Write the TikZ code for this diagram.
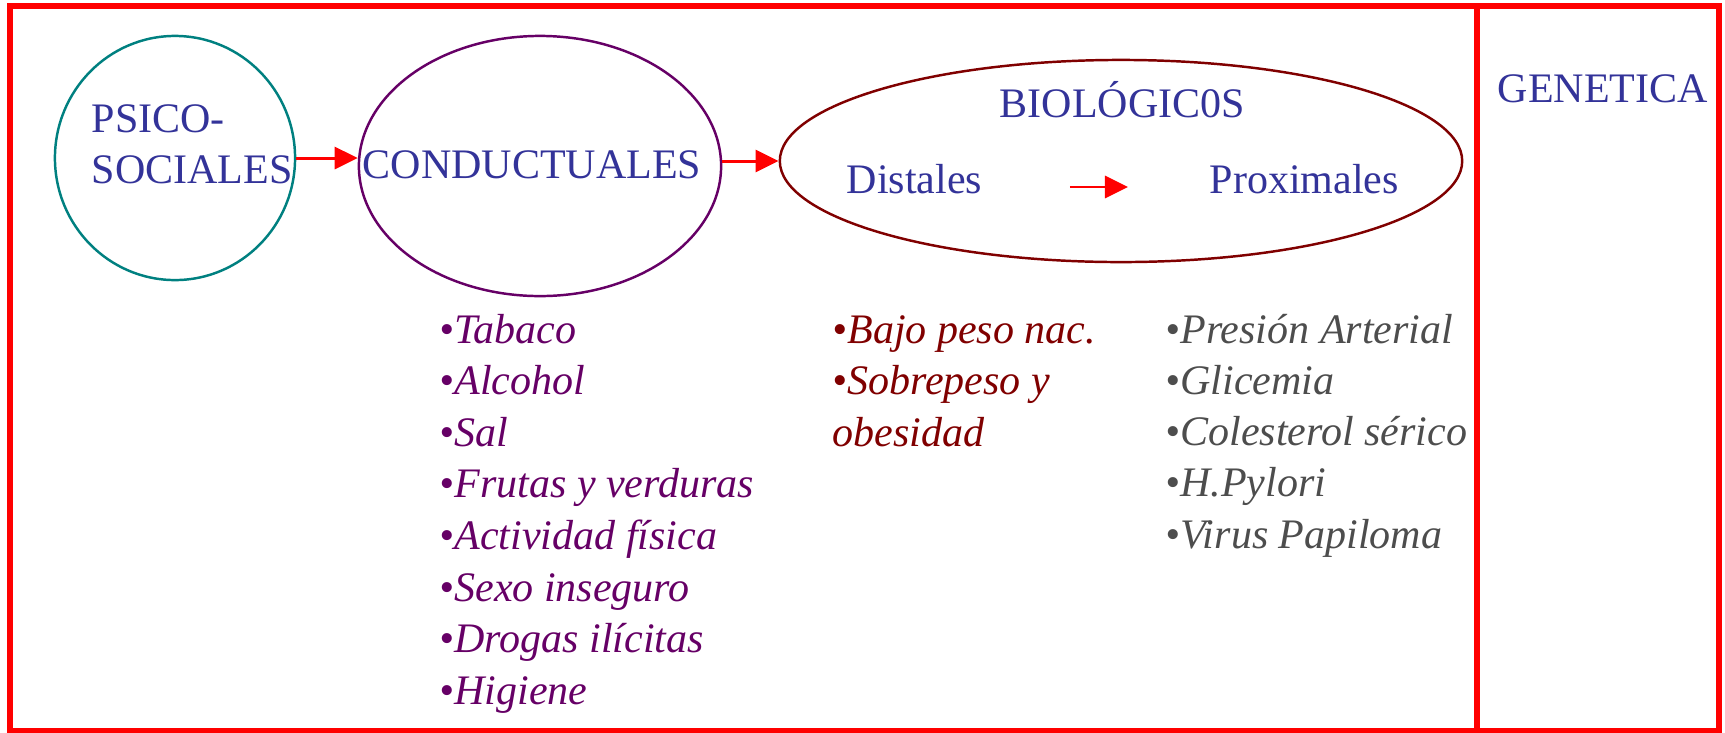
\documentclass[tikz,border=0pt]{standalone}
\usepackage{fontspec}
\setmainfont{Liberation Serif}
\usepackage{tikz}
\usetikzlibrary{shapes.geometric, arrows.meta, positioning}

\definecolor{frameRed}{HTML}{FF0000}
\definecolor{txtBlue}{HTML}{333399}
\definecolor{psiTeal}{HTML}{008080}
\definecolor{condPurple}{HTML}{660066}
\definecolor{bioRed}{HTML}{800000}
\definecolor{listGray}{HTML}{4D4D4D}

\tikzset{
  lbl/.style={font=\fontsize{11.95}{14.5}\selectfont, text=txtBlue, inner sep=0pt, anchor=base west},
  listitem/.style={font=\fontsize{11.95}{14.5}\selectfont\itshape, inner sep=0pt, anchor=base west},
  oval/.style={ellipse, draw, line width=0.7pt, inner sep=0pt},
  link/.style={draw=frameRed, line width=0.85pt, -{Triangle[length=0.23cm, width=0.22cm]}}
}

\begin{document}
\begin{tikzpicture}[x=0.01cm, y=0.01cm]
\useasboundingbox (0,0) rectangle (1725,732);

% Frame and divider
\draw[frameRed, line width=1.7pt] (10.3,1) rectangle (1718.5,726);
\draw[frameRed, line width=1.7pt] (1477,1) -- (1477,726);

% Ovals
\node[oval, draw=psiTeal, minimum width=2.40cm, minimum height=2.44cm] (psico) at (175,574) {};
\node[oval, draw=condPurple, minimum width=3.62cm, minimum height=2.60cm] (cond) at (540,566) {};
\node[oval, draw=bioRed, minimum width=6.82cm, minimum height=2.02cm] (bio) at (1121,571) {};

% Titles
\node[lbl] (psicoA) at (91,600) {PSICO-};
\node[lbl] (psicoB) at (91,549) {SOCIALES};
\node[lbl] (condT) at (362,554) {CONDUCTUALES};
\node[lbl] (bioT) at (999,615) {BIOLÓGIC0S};
\node[lbl, text height=0.30cm, text depth=0.18cm] (dist) at (846,539) {Distales};
\node[lbl, text height=0.30cm, text depth=0.18cm] (prox) at (1209,539) {Proximales};
\node[lbl] (gen) at (1497,630) {GENETICA};

% Arrows
\draw[link] (psico.east) -- (psico.east -| cond.west);
\draw[link] (bio.west -| cond.east) -- (bio.west);
\draw[link, shorten <=0.87cm, shorten >=0.81cm] (dist.east) -- (prox.west);

% Lists
\foreach \t [count=\i from 0] in {Tabaco, Alcohol, Sal, Frutas y verduras, Actividad física, Sexo inseguro, Drogas ilícitas, Higiene}
  \node[listitem, text=condPurple] (cond\i) at (439, {389-51.6*\i}) {•\t};

\node[listitem, text=bioRed] (bio0) at (832,389) {•Bajo peso nac.};
\node[listitem, text=bioRed] (bio1) at (832,337.4) {•Sobrepeso y};
\node[listitem, text=bioRed] (bio2) at (832,285.8) {obesidad};

\foreach \t [count=\i from 0] in {Presión Arterial, Glicemia, Colesterol sérico, H.Pylori, Virus Papiloma}
  \node[listitem, text=listGray] (pres\i) at (1165, {389-51.3*\i}) {•\t};
\end{tikzpicture}
\end{document}
